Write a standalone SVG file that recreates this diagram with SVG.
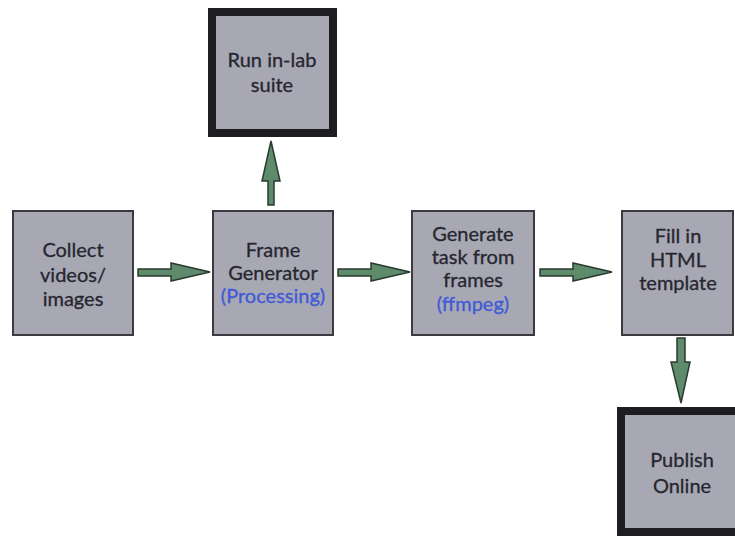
<svg xmlns="http://www.w3.org/2000/svg" width="735" height="537" viewBox="0 0 735 537">
  <style>
    .box { fill: #a8a8b5; stroke: #3a3a40; stroke-width: 2; }
    .term { fill: #a8a8b5; stroke: #1e1e22; stroke-width: 8; }
    .lbl { font-family: Lato, "Open Sans", sans-serif; font-size: 20px; fill: #26262e; stroke: #26262e; stroke-width: 0.3; text-anchor: middle; }
    .sub { fill: #3f5ad6; stroke: #3f5ad6; }
    .arrow { fill: #5e8b6b; stroke: #2a3a2f; stroke-width: 1.5; stroke-linejoin: miter; }
  </style>
  <rect width="735" height="537" fill="#ffffff"/>

  <g id="collect">
    <rect class="box" x="13" y="211" width="120" height="124"/>
    <text class="lbl" x="73" y="257">Collect</text>
    <text class="lbl" x="73" y="282">videos/</text>
    <text class="lbl" x="73" y="306">images</text>
  </g>

  <g id="frame-generator">
    <rect class="box" x="213" y="211" width="120" height="124"/>
    <text class="lbl" x="273" y="257">Frame</text>
    <text class="lbl" x="273" y="280">Generator</text>
    <text class="lbl sub" x="273" y="303">(Processing)</text>
  </g>

  <g id="generate-task">
    <rect class="box" x="412" y="211" width="122" height="124"/>
    <text class="lbl" x="473" y="241">Generate</text>
    <text class="lbl" x="473" y="264">task from</text>
    <text class="lbl" x="473" y="287">frames</text>
    <text class="lbl sub" x="473" y="311">(ffmpeg)</text>
  </g>

  <g id="fill-template">
    <rect class="box" x="622" y="211" width="111" height="124"/>
    <text class="lbl" x="678" y="243">Fill in</text>
    <text class="lbl" x="678" y="267">HTML</text>
    <text class="lbl" x="678" y="290">template</text>
  </g>

  <g id="run-lab-suite">
    <rect class="term" x="212" y="12" width="121" height="121"/>
    <text class="lbl" x="272" y="67">Run in-lab</text>
    <text class="lbl" x="272" y="92">suite</text>
  </g>

  <g id="publish-online">
    <rect class="term" x="621" y="411" width="120" height="121"/>
    <text class="lbl" x="682" y="467">Publish</text>
    <text class="lbl" x="682" y="493">Online</text>
  </g>

  <g id="connectors">
    <!-- collect -> frame generator -->
    <path class="arrow" d="M138,269 L171,269 L171,263 L210,272 L171,281 L171,276 L138,276 Z"/>
    <!-- frame generator -> generate task -->
    <path class="arrow" d="M338,269 L371,269 L371,263 L410,272 L371,281 L371,276 L338,276 Z"/>
    <!-- generate task -> fill template -->
    <path class="arrow" d="M540,269 L573,269 L573,263 L612,272 L573,281 L573,276 L540,276 Z"/>
    <!-- frame generator -> run in-lab suite -->
    <path class="arrow" d="M268,205 L268,181 L262,181 L271,141 L280,181 L274,181 L274,205 Z"/>
    <!-- fill template -> publish online -->
    <path class="arrow" d="M677,338 L677,362 L671,362 L681,403 L690,362 L685,362 L685,338 Z"/>
  </g>
</svg>
